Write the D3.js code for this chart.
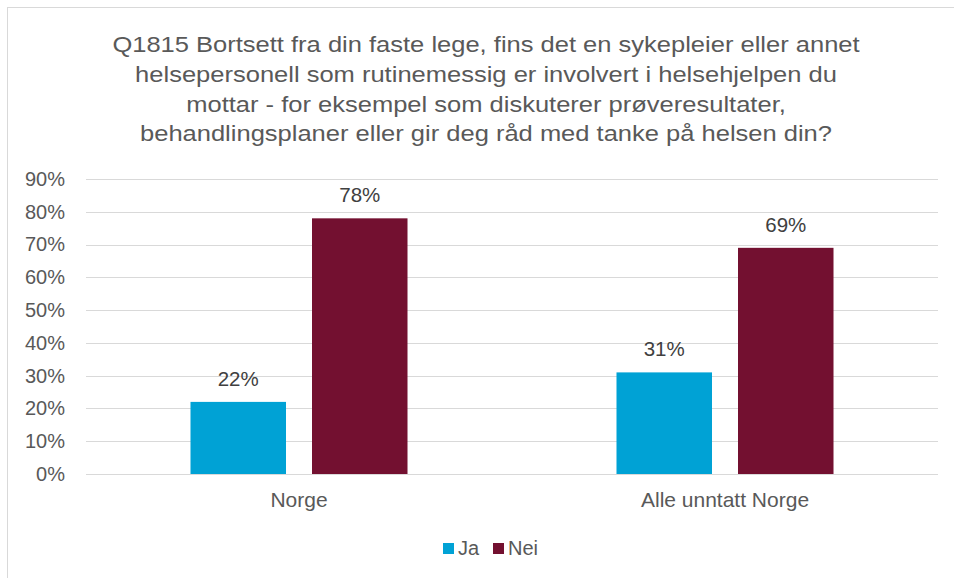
<!DOCTYPE html>
<html>
<head>
<meta charset="utf-8">
<script src="https://cdn.jsdelivr.net/npm/d3@7"></script>
<style>
  body { margin: 0; background: #fff; }
  svg { display: block; font-family: "Liberation Sans", Arial, sans-serif; }
</style>
</head>
<body>
<svg id="chart" width="954" height="578"></svg>
<script>
// data
var categories = ["Norge", "Alle unntatt Norge"];
var seriesNames = ["Ja", "Nei"];
var jaValues = [0.22, 0.31];
var neiValues = [0.78, 0.69];
var yTicks = [0, 0.1, 0.2, 0.3, 0.4, 0.5, 0.6, 0.7, 0.8, 0.9];
var titleLines = [
  "Q1815 Bortsett fra din faste lege, fins det en sykepleier eller annet",
  "helsepersonell som rutinemessig er involvert i helsehjelpen du",
  "mottar - for eksempel som diskuterer prøveresultater,",
  "behandlingsplaner eller gir deg råd med tanke på helsen din?"
];
var colors = { "Ja": "#00A2D5", "Nei": "#731030" };

var svg = d3.select("#chart");

// chart frame (cropped on right and bottom)
svg.append("rect")
    .attr("x", 7.5).attr("y", 7.5)
    .attr("width", 1000).attr("height", 1000)
    .attr("fill", "none").attr("stroke", "#d9d9d9");

// title (text in the reference is a bit wide, so stretch it horizontally)
svg.append("g")
    .attr("transform", "translate(486,0) scale(1.16,1)")
    .selectAll("text")
    .data(titleLines)
    .enter().append("text")
    .attr("x", 0)
    .attr("y", function(d, i) { return 52.5 + i * 29.6; })
    .attr("text-anchor", "middle")
    .attr("fill", "#595959")
    .attr("font-size", "22px")
    .text(function(d) { return d; });

var plotLeft = 86, plotRight = 938, plotTop = 179, plotBottom = 474;

var x0 = d3.scaleBand().domain(categories).range([plotLeft, plotRight]);
var x1 = d3.scaleBand().domain(seriesNames)
    .range([0, x0.bandwidth()])
    .paddingInner(0.214)
    .paddingOuter(0.86);
var y = d3.scaleLinear().domain([0, 0.9]).range([plotBottom, plotTop]);

// gridlines
svg.append("g").selectAll("line")
    .data(yTicks)
    .enter().append("line")
    .attr("x1", plotLeft).attr("x2", plotRight)
    .attr("y1", function(d) { return Math.round(y(d)) + 0.5; })
    .attr("y2", function(d) { return Math.round(y(d)) + 0.5; })
    .attr("stroke", "#d9d9d9")
    .attr("stroke-width", 1);

// y axis labels
var yAxis = d3.axisLeft(y).tickValues(yTicks).tickFormat(d3.format(".0%")).tickSize(0).tickPadding(21);
var ya = svg.append("g").attr("transform", "translate(" + plotLeft + ",0)").call(yAxis);
ya.select(".domain").remove();
ya.selectAll("text")
    .attr("fill", "#595959")
    .attr("font-size", "20px")
    .attr("font-family", "Liberation Sans, Arial, sans-serif");

// x axis labels
var xAxis = d3.axisBottom(x0).tickSize(0).tickPadding(18);
var xa = svg.append("g").attr("transform", "translate(0," + plotBottom + ")").call(xAxis);
xa.select(".domain").remove();
xa.selectAll("text")
    .attr("fill", "#595959")
    .attr("font-size", "21px")
    .attr("font-family", "Liberation Sans, Arial, sans-serif");

// bars
var rows = categories.map(function(c, i) {
  return { cat: c, values: [{ s: "Ja", v: jaValues[i] }, { s: "Nei", v: neiValues[i] }] };
});

var groups = svg.append("g").selectAll("g")
    .data(rows)
    .enter().append("g")
    .attr("transform", function(d) { return "translate(" + x0(d.cat) + ",0)"; });

groups.selectAll("rect")
    .data(function(d) { return d.values; })
    .enter().append("rect")
    .attr("x", function(d) { return x1(d.s); })
    .attr("y", function(d) { return y(d.v); })
    .attr("width", x1.bandwidth())
    .attr("height", function(d) { return plotBottom - y(d.v); })
    .attr("fill", function(d) { return colors[d.s]; });

groups.selectAll("text")
    .data(function(d) { return d.values; })
    .enter().append("text")
    .attr("x", function(d) { return x1(d.s) + x1.bandwidth() / 2; })
    .attr("y", function(d) { return y(d.v) - 16; })
    .attr("text-anchor", "middle")
    .attr("fill", "#404040")
    .attr("font-size", "20.5px")
    .text(function(d) { return d3.format(".0%")(d.v); });

// legend
var legendX = [443, 493];
var legend = svg.append("g").selectAll("g")
    .data(seriesNames)
    .enter().append("g")
    .attr("transform", function(d, i) { return "translate(" + legendX[i] + ",543)"; });
legend.append("rect")
    .attr("width", 11).attr("height", 11)
    .attr("fill", function(d) { return colors[d]; });
legend.append("text")
    .attr("x", 15).attr("y", 11.5)
    .attr("fill", "#595959")
    .attr("font-size", "20px")
    .text(function(d) { return d; });
</script>
</body>
</html>
